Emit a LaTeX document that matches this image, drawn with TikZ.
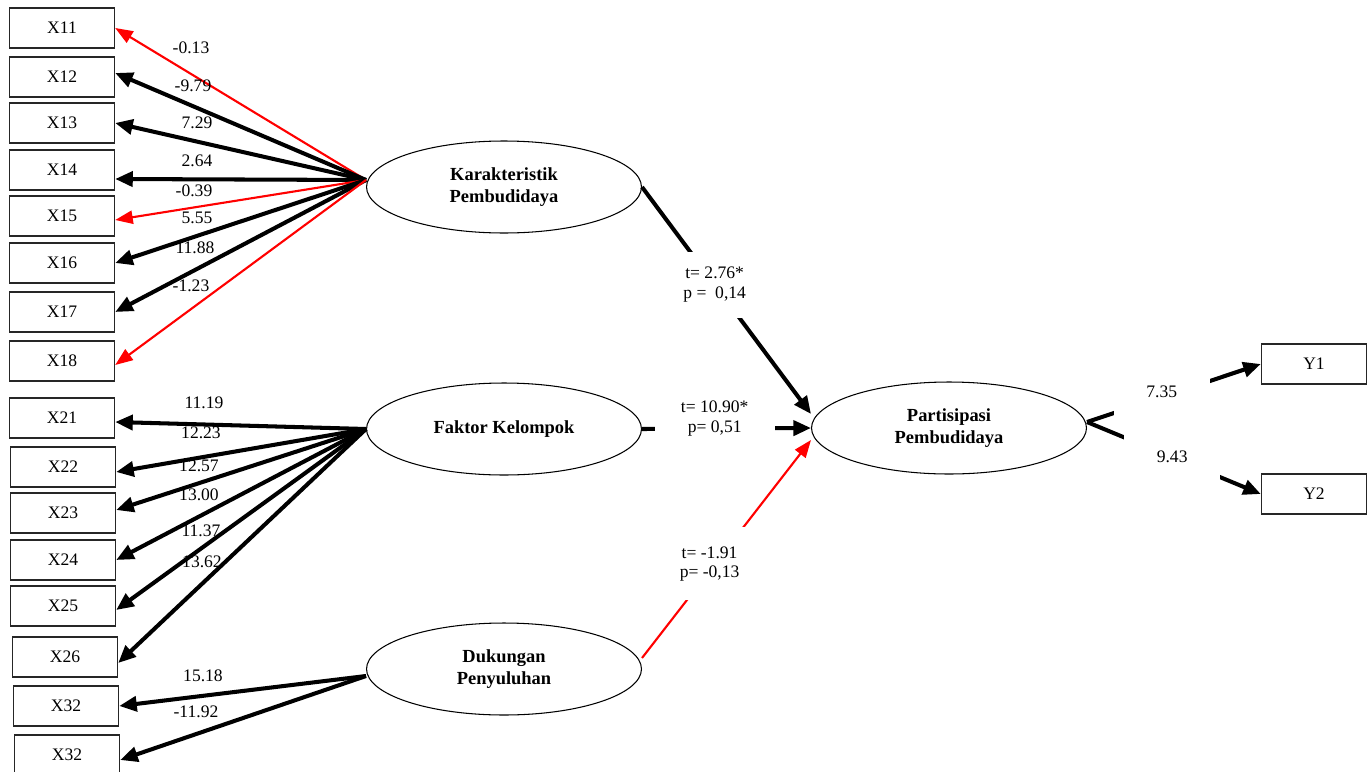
\documentclass[tikz,border=0pt]{standalone}
\usepackage{fontspec}
\setmainfont{Liberation Serif}
\usetikzlibrary{arrows.meta,shapes.geometric}
\begin{document}
\begin{tikzpicture}[x=0.02cm,y=-0.02cm,
ind/.style={draw=black!85,line width=.8pt,minimum width=2.1cm,minimum height=.8cm,inner sep=0pt,font=\fontsize{10}{12}\selectfont},
lat/.style={draw,ellipse,line width=.6pt,minimum width=5.5cm,minimum height=1.84cm,inner sep=0pt,align=center,font=\fontsize{10.5}{12.5}\selectfont\bfseries},
ld/.style={line width=2.3pt,-{Triangle[length=10pt,width=8.5pt]}},
ldr/.style={line width=1.2pt,red,-{Triangle[length=10pt,width=7.5pt]}},
val/.style={font=\fontsize{10}{12}\selectfont,inner sep=0pt},
tbox/.style={fill=white,text=black,align=center,inner sep=0pt,font=\fontsize{10}{11}\selectfont}]
\useasboundingbox(0,0)rectangle(1372,771);
% indicators
\node[ind](x11)at(62,28){X11};
\node[ind](x12)at(62,77){X12};
\node[ind](x13)at(62,123){X13};
\node[ind](x14)at(62,170){X14};
\node[ind](x15)at(62,216){X15};
\node[ind](x16)at(62,263){X16};
\node[ind](x17)at(62,312){X17};
\node[ind](x18)at(62,361){X18};
\node[ind](x21)at(62,418){X21};
\node[ind](x22)at(63,467){X22};
\node[ind](x23)at(63,513){X23};
\node[ind](x24)at(63,560){X24};
\node[ind](x25)at(63,606){X25};
\node[ind](x26)at(65,657){X26};
\node[ind](x32a)at(66,706){X32};
\node[ind](x32b)at(67,755){X32};
\node[ind](y1)at(1314,364){Y1};
\node[ind](y2)at(1314,494){Y2};
% latent variables
\node[lat](kp)at(504,187){Karakteristik\\Pembudidaya};
\node[lat](fk)at(504,429){Faktor Kelompok};
\node[lat](dp)at(504,669){Dukungan\\Penyuluhan};
\node[lat](pp)at(949,428){Partisipasi\\Pembudidaya};
\coordinate(kA)at([yshift=.14cm]kp.west);
\coordinate(dA)at([yshift=-.14cm]dp.west);
\coordinate(pA)at([yshift=.12cm]pp.east);
% loadings
\draw[ldr](kA)--(x11.east);
\draw[ld](kA)--([yshift=.08cm]x12.east);
\draw[ld](kA)--(x13.east);
\draw[ld](kA)--([yshift=-.18cm]x14.east);
\draw[ldr](kA)--([yshift=-.08cm]x15.east);
\draw[ld](kA)--(x16.east);
\draw[ld](kA)--(x17.east);
\draw[ldr](kA)--([yshift=-.08cm]x18.east);
\draw[ld](fk.west)--([yshift=-.08cm]x21.east);
\draw[ld](fk.west)--([yshift=-.1cm]x22.east);
\draw[ld](fk.west)--([yshift=.06cm]x23.east);
\draw[ld](fk.west)--(x24.east);
\draw[ld](fk.west)--([yshift=-.08cm]x25.east);
\draw[ld](fk.west)--([yshift=-.12cm]x26.east);
\draw[ld](dA)--(x32a.east);
\draw[ld](dA)--([yshift=-.1cm]x32b.east);
\node[val](v11)at(191,48){-0.13};
\node[val](v12)at(193,86){-9.79};
\node[val](v13)at(197,123){7.29};
\node[val](v14)at(197,161){2.64};
\node[val](v15)at(194,191){-0.39};
\node[val](v16)at(197,218){5.55};
\node[val](v17)at(195,248){11.88};
\node[val](v18)at(191,286){-1.23};
\node[val](v21)at(204,403){11.19};
\node[val](v22)at(201,433){12.23};
\node[val](v23)at(199,466){12.57};
\node[val](v24)at(199,495){13.00};
\node[val](v25)at(201,531){11.37};
\node[val](v26)at(202,562){13.62};
\node[val](v31)at(203,676){15.18};
\node[val](v32)at(196,712){-11.92};
% structural paths
\draw[ld](kp.east)--node[tbox,pos=.43,minimum width=1.6cm,minimum height=1.32cm](tk){t= 2.76*\\p = \ 0,14}([yshift=.28cm]pp.west);
\draw[ld](fk.east)--node[tbox,pos=.43,yshift=.2cm,minimum width=2.4cm,minimum height=1.2cm](tf){t= 10.90*\\p= 0,51}(pp.west);
\draw[ldr]([yshift=.22cm]dp.east)--node[tbox,pos=.4,yshift=.14cm,minimum width=1.6cm,minimum height=1.46cm](td){t= -1.91\\p= -0,13}([yshift=-.24cm]pp.west);
\draw[ld](pA)--node[tbox,pos=.43,yshift=.1cm,minimum width=1.92cm,minimum height=1cm](ty1){7.35}(y1.west);
\draw[ld](pA)--node[tbox,pos=.49,minimum width=1.92cm,minimum height=.9cm](ty2){9.43}(y2.west);
\end{tikzpicture}
\end{document}
